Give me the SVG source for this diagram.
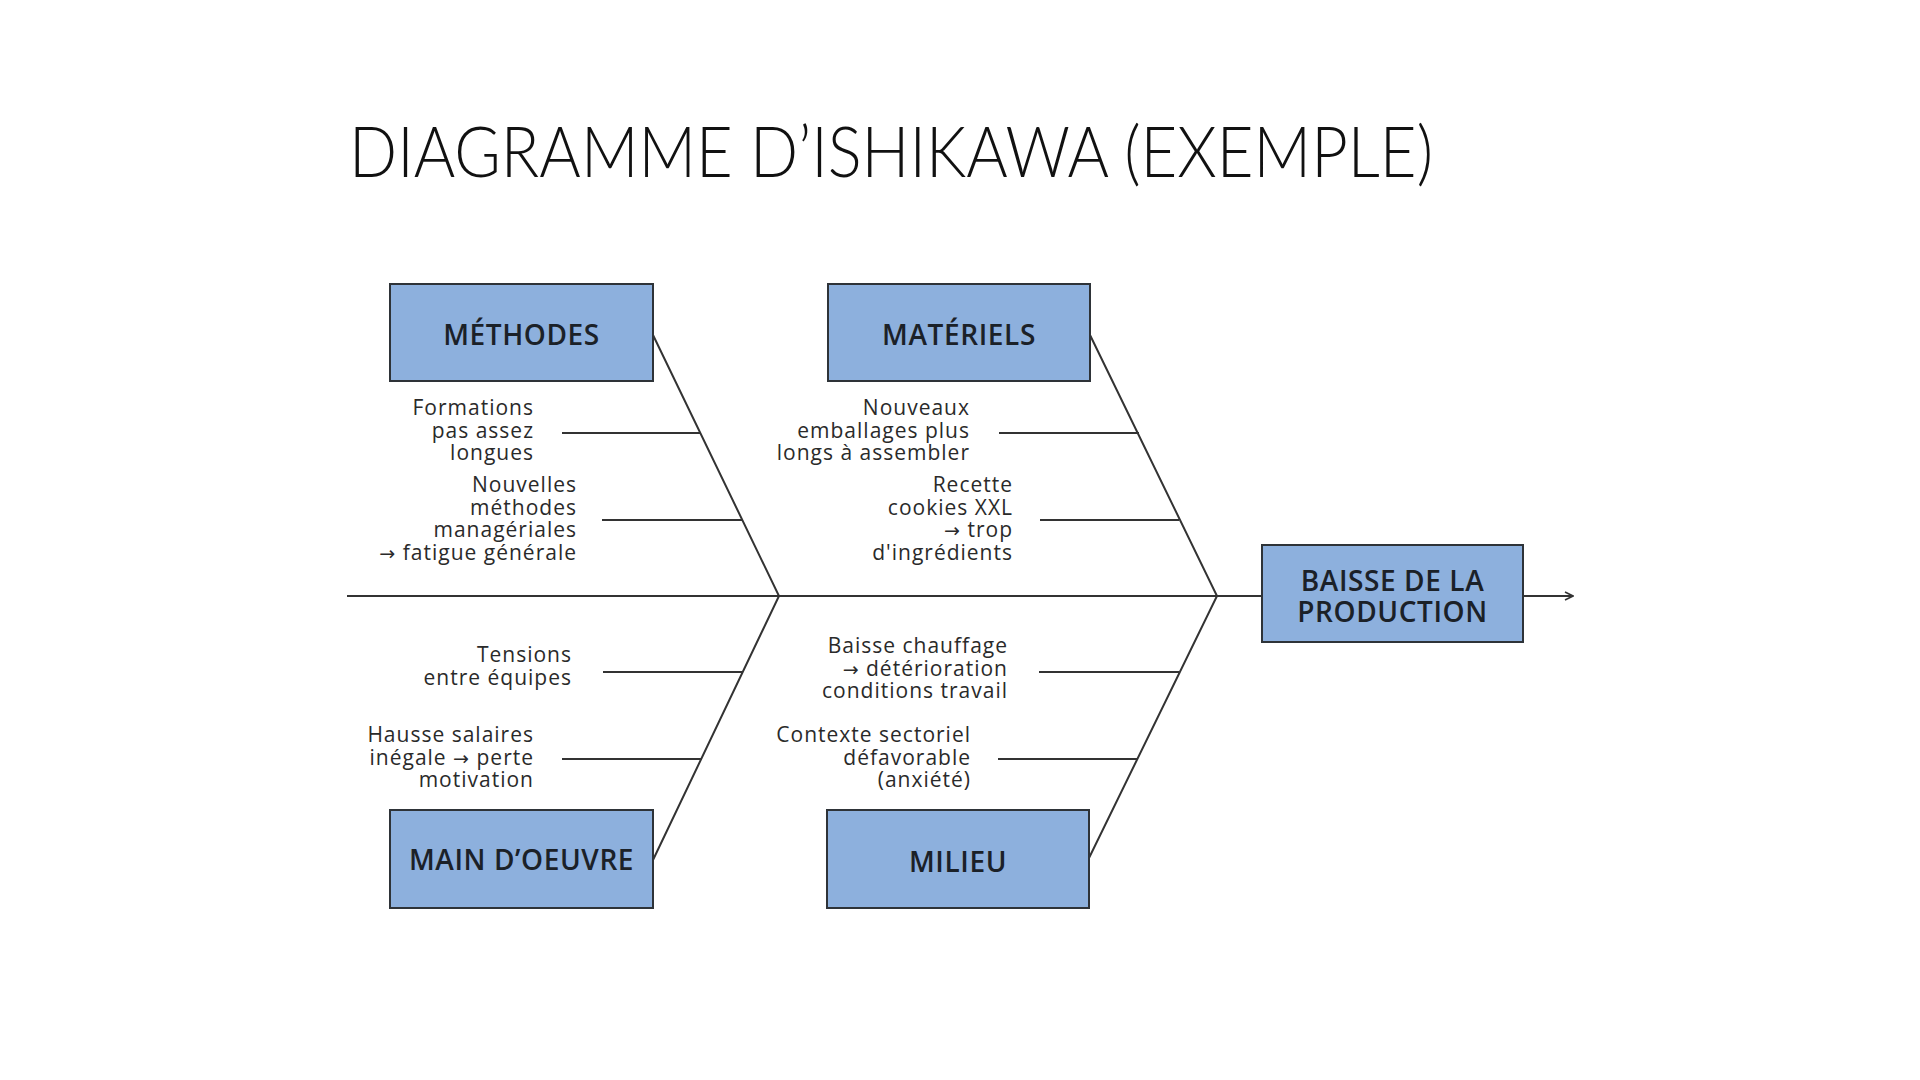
<svg xmlns="http://www.w3.org/2000/svg" width="1920" height="1080" viewBox="0 0 1920 1080">
<style>
.box{fill:#8DB0DD;stroke:#2E3338;stroke-width:2}
.lbl{font-family:"Open Sans","Noto Sans",sans-serif;font-weight:600;font-size:28px;letter-spacing:0.6px;fill:#1B2128;text-anchor:middle}
.txt{font-family:"Open Sans","Noto Sans",sans-serif;font-size:21px;letter-spacing:1px;fill:#2A2A2A;text-anchor:end}
.ar{font-family:"DejaVu Sans",sans-serif;font-size:19px}
.ln{stroke:#333;stroke-width:2;fill:none}
.title{font-family:"Lato","DejaVu Sans",sans-serif;font-weight:300;font-size:70px;fill:#111}
</style>
<defs>
<marker id="arr" viewBox="0 0 10 10" refX="9" refY="5" markerWidth="10" markerHeight="10" markerUnits="userSpaceOnUse" orient="auto">
<path d="M1,1 L9,5 L1,9" fill="none" stroke="#333" stroke-width="1.6"/>
</marker>
</defs>
<rect width="1920" height="1080" fill="#fff"/>
<text class="title" x="349" y="177" textLength="1084" lengthAdjust="spacingAndGlyphs">DIAGRAMME D’ISHIKAWA (EXEMPLE)</text>
<g id="connectors">
<path class="ln" d="M347,596 L1262,596"/>
<path class="ln" d="M1523,596 L1573,596" marker-end="url(#arr)"/>
<path class="ln" d="M653,335 L779,596 L653,860"/>
<path class="ln" d="M1090,335 L1217,596 L1089,858"/>
<path class="ln" d="M562,433 L701,433"/>
<path class="ln" d="M602,520 L743,520"/>
<path class="ln" d="M999,433 L1139,433"/>
<path class="ln" d="M1040,520 L1179,520"/>
<path class="ln" d="M603,672 L743,672"/>
<path class="ln" d="M562,759 L702,759"/>
<path class="ln" d="M1039,672 L1179,672"/>
<path class="ln" d="M998,759 L1138,759"/>
</g>
<g id="methodes">
<rect class="box" x="390" y="284" width="263" height="97"/>
<text class="lbl" x="521.5" y="345">MÉTHODES</text>
</g>
<g id="materiels">
<rect class="box" x="828" y="284" width="262" height="97"/>
<text class="lbl" x="959" y="345">MATÉRIELS</text>
</g>
<g id="main-oeuvre">
<rect class="box" x="390" y="810" width="263" height="98"/>
<text class="lbl" x="521.5" y="870">MAIN D’OEUVRE</text>
</g>
<g id="milieu">
<rect class="box" x="827" y="810" width="262" height="98"/>
<text class="lbl" x="958" y="872">MILIEU</text>
</g>
<g id="effet">
<rect class="box" x="1262" y="545" width="261" height="97"/>
<text class="lbl" x="1392.5" y="591">BAISSE DE LA</text>
<text class="lbl" x="1392.5" y="622">PRODUCTION</text>
</g>
<g id="cause-formations">
<text class="txt" x="534" y="415">Formations</text>
<text class="txt" x="534" y="437.5">pas assez</text>
<text class="txt" x="534" y="460">longues</text>
</g>
<g id="cause-nouvelles-methodes">
<text class="txt" x="577" y="492">Nouvelles</text>
<text class="txt" x="577" y="514.5">méthodes</text>
<text class="txt" x="577" y="537">managériales</text>
<text class="txt" x="577" y="559.5"><tspan class="ar">→</tspan> fatigue générale</text>
</g>
<g id="cause-emballages">
<text class="txt" x="970" y="415">Nouveaux</text>
<text class="txt" x="970" y="437.5">emballages plus</text>
<text class="txt" x="970" y="460">longs à assembler</text>
</g>
<g id="cause-recette">
<text class="txt" x="1013" y="492">Recette</text>
<text class="txt" x="1013" y="514.5">cookies XXL</text>
<text class="txt" x="1013" y="537"><tspan class="ar">→</tspan> trop</text>
<text class="txt" x="1013" y="559.5">d'ingrédients</text>
</g>
<g id="cause-tensions">
<text class="txt" x="572" y="662">Tensions</text>
<text class="txt" x="572" y="684.5">entre équipes</text>
</g>
<g id="cause-salaires">
<text class="txt" x="534" y="742">Hausse salaires</text>
<text class="txt" x="534" y="764.5">inégale <tspan class="ar">→</tspan> perte</text>
<text class="txt" x="534" y="787">motivation</text>
</g>
<g id="cause-chauffage">
<text class="txt" x="1008" y="653">Baisse chauffage</text>
<text class="txt" x="1008" y="675.5"><tspan class="ar">→</tspan> détérioration</text>
<text class="txt" x="1008" y="698">conditions travail</text>
</g>
<g id="cause-contexte">
<text class="txt" x="971" y="742">Contexte sectoriel</text>
<text class="txt" x="971" y="764.5">défavorable</text>
<text class="txt" x="971" y="787">(anxiété)</text>
</g>
</svg>
